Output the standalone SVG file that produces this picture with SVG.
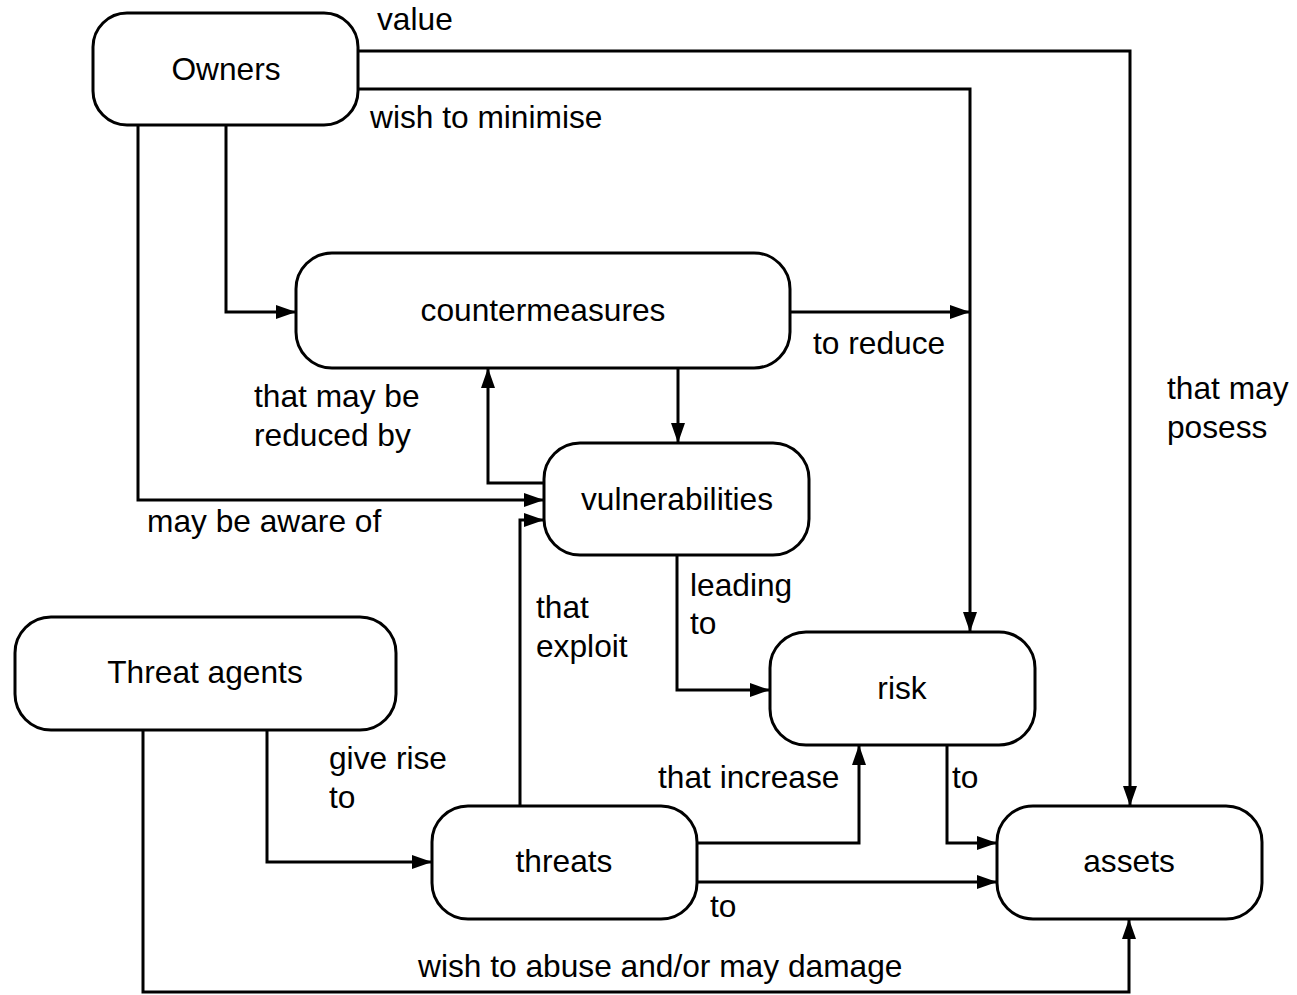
<svg xmlns="http://www.w3.org/2000/svg" width="1297" height="995" viewBox="0 0 1297 995">
  <style>
    .node { fill: #ffffff; stroke: #000000; stroke-width: 3; }
    .edge { fill: none; stroke: #000000; stroke-width: 3; }
    .title { font-family: "Liberation Sans", Arial, sans-serif; font-size: 31.7px; fill: #000000; text-anchor: middle; }
    .label { font-family: "Liberation Sans", Arial, sans-serif; font-size: 31.7px; fill: #000000; }
  </style>
  <defs>
    <marker id="arrow" markerUnits="userSpaceOnUse" markerWidth="20" markerHeight="14" refX="20" refY="7" orient="auto">
      <path d="M0,0 L20,7 L0,14 z" fill="#000000"/>
    </marker>
  </defs>
  <rect width="1297" height="995" fill="#ffffff"/>

  <g id="connectors">
    <path class="edge" d="M358,51 H1130 V806" marker-end="url(#arrow)"/>
    <path class="edge" d="M358,89 H970 V632" marker-end="url(#arrow)"/>
    <path class="edge" d="M226,125 V312 H296" marker-end="url(#arrow)"/>
    <path class="edge" d="M138,125 V500 H544" marker-end="url(#arrow)"/>
    <path class="edge" d="M790,312 H970" marker-end="url(#arrow)"/>
    <path class="edge" d="M678,368 V443" marker-end="url(#arrow)"/>
    <path class="edge" d="M544,483 H488 V368" marker-end="url(#arrow)"/>
    <path class="edge" d="M520,806 V520 H544" marker-end="url(#arrow)"/>
    <path class="edge" d="M677,555 V690 H770" marker-end="url(#arrow)"/>
    <path class="edge" d="M947,745 V843 H997" marker-end="url(#arrow)"/>
    <path class="edge" d="M697,843 H859 V745" marker-end="url(#arrow)"/>
    <path class="edge" d="M697,882 H997" marker-end="url(#arrow)"/>
    <path class="edge" d="M267,730 V862 H432" marker-end="url(#arrow)"/>
    <path class="edge" d="M143,730 V992 H1129 V919" marker-end="url(#arrow)"/>
  </g>

  <g id="edge-labels">
    <text class="label" x="377" y="30">value</text>
    <text class="label" x="370" y="128">wish to minimise</text>
    <text class="label" x="813" y="354">to reduce</text>
    <text class="label" x="1167" y="399">that may</text>
    <text class="label" x="1167" y="438">posess</text>
    <text class="label" x="254" y="407">that may be</text>
    <text class="label" x="254" y="446">reduced by</text>
    <text class="label" x="147" y="532">may be aware of</text>
    <text class="label" x="536" y="618">that</text>
    <text class="label" x="536" y="657">exploit</text>
    <text class="label" x="690" y="596">leading</text>
    <text class="label" x="690" y="634">to</text>
    <text class="label" x="329" y="769">give rise</text>
    <text class="label" x="329" y="808">to</text>
    <text class="label" x="658" y="788">that increase</text>
    <text class="label" x="952" y="788">to</text>
    <text class="label" x="710" y="917">to</text>
    <text class="label" x="418" y="977">wish to abuse and/or may damage</text>
  </g>

  <g id="owners">
    <rect class="node" x="93" y="13" width="265" height="112" rx="34"/>
    <text class="title" x="226" y="80">Owners</text>
  </g>
  <g id="countermeasures">
    <rect class="node" x="296" y="253" width="494" height="115" rx="36"/>
    <text class="title" x="543" y="321">countermeasures</text>
  </g>
  <g id="vulnerabilities">
    <rect class="node" x="544" y="443" width="265" height="112" rx="36"/>
    <text class="title" x="677" y="510">vulnerabilities</text>
  </g>
  <g id="threat-agents">
    <rect class="node" x="15" y="617" width="381" height="113" rx="36"/>
    <text class="title" x="205" y="683">Threat agents</text>
  </g>
  <g id="risk">
    <rect class="node" x="770" y="632" width="265" height="113" rx="36"/>
    <text class="title" x="902" y="699">risk</text>
  </g>
  <g id="threats">
    <rect class="node" x="432" y="806" width="265" height="113" rx="36"/>
    <text class="title" x="564" y="872">threats</text>
  </g>
  <g id="assets">
    <rect class="node" x="997" y="806" width="265" height="113" rx="36"/>
    <text class="title" x="1129" y="872">assets</text>
  </g>
</svg>
